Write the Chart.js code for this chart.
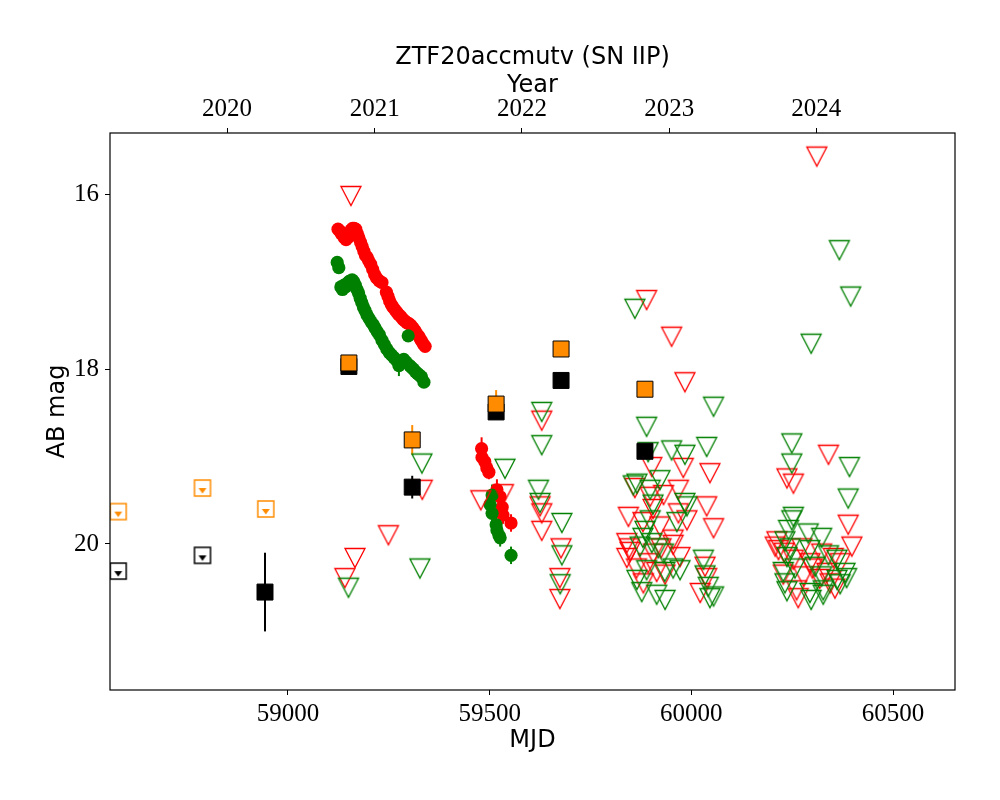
<!DOCTYPE html>
<html><head><meta charset="utf-8">
<script src="https://cdn.jsdelivr.net/npm/chart.js@4"></script>
<style>html,body{margin:0;padding:0;background:#fff}canvas{display:block}</style>
</head><body>
<canvas id="c" width="1000" height="800"></canvas>
<script>
// ---------- text / ticks ----------
const titleText = 'ZTF20accmutv (SN IIP)';
const xLabel = 'MJD';
const yLabel = 'AB mag';
const topLabel = 'Year';
const mjdTicks = [59000, 59500, 60000, 60500];
const magTicks = [16, 18, 20];
const yearTicks = [58849, 59215, 59580, 59945, 60310];
const yearLabels = ['2020', '2021', '2022', '2023', '2024'];
const mjdRange = [58558.7, 60653.7];
const magRange = [15.30, 21.67];

// ---------- data: [MJD, mag, err] ----------
const ztfR = [
 [59124,16.40,0.03],[59128,16.42,0.03],[59132,16.45,0.03],[59136,16.47,0.03],[59140,16.50,0.03],[59144,16.52,0.03],
 [59148,16.50,0.03],[59152,16.45,0.03],[59156,16.41,0.03],[59160,16.39,0.03],[59164,16.39,0.03],[59168,16.40,0.03],
 [59172,16.45,0.03],[59176,16.50,0.03],[59180,16.55,0.03],[59184,16.60,0.03],[59188,16.65,0.03],[59192,16.70,0.03],
 [59196,16.72,0.03],[59200,16.76,0.03],[59205,16.80,0.03],[59210,16.86,0.03],[59215,16.92,0.03],[59220,16.96,0.03],
 [59226,16.99,0.03],[59233,17.01,0.03],[59244,17.12,0.03],[59248,17.17,0.03],[59252,17.22,0.03],[59256,17.26,0.03],
 [59260,17.29,0.03],[59265,17.32,0.03],[59270,17.35,0.03],[59275,17.38,0.03],[59280,17.40,0.03],[59285,17.43,0.03],
 [59290,17.45,0.03],[59295,17.47,0.03],[59300,17.48,0.03],[59305,17.50,0.03],[59310,17.53,0.03],[59315,17.56,0.03],
 [59320,17.60,0.03],[59325,17.63,0.03],[59330,17.67,0.03],[59335,17.71,0.03],[59340,17.74,0.03],
 [59480,18.91,0.13],[59481,19.01,0.10],[59488,19.06,0.10],[59493,19.13,0.10],[59498,19.18,0.08],[59518,19.38,0.12],
 [59526,19.46,0.10],[59531,19.58,0.10],[59533,19.67,0.10],[59553,19.76,0.10]
];
const ztfG = [
 [59122,16.78,0.03],[59126,16.84,0.03],[59131,17.06,0.03],[59135,17.09,0.03],[59139,17.04,0.03],[59143,17.06,0.03],
 [59147,17.02,0.03],[59151,17.00,0.03],[59155,16.99,0.03],[59159,16.98,0.03],[59163,17.00,0.03],[59167,17.04,0.03],
 [59171,17.09,0.03],[59175,17.13,0.03],[59179,17.19,0.12],[59183,17.24,0.03],[59187,17.29,0.03],[59191,17.33,0.03],
 [59196,17.38,0.03],[59201,17.42,0.03],[59206,17.46,0.03],[59211,17.49,0.03],[59216,17.53,0.03],[59221,17.57,0.03],
 [59227,17.61,0.03],[59233,17.67,0.03],[59239,17.72,0.03],[59245,17.77,0.03],[59251,17.81,0.03],[59257,17.84,0.03],
 [59263,17.87,0.03],[59269,17.90,0.03],[59275,17.96,0.12],[59281,17.92,0.03],[59287,17.89,0.03],[59293,17.92,0.03],
 [59298,17.62,0.07],[59302,17.96,0.03],[59306,17.98,0.03],[59311,18.00,0.03],[59316,18.03,0.03],[59321,18.05,0.03],
 [59326,18.07,0.03],[59331,18.09,0.03],[59337,18.15,0.03],
 [59506,19.44,0.12],[59501,19.55,0.12],[59506,19.65,0.10],[59516,19.78,0.10],[59518,19.84,0.10],[59523,19.90,0.10],
 [59526,19.93,0.10],[59553,20.13,0.10]
];
// upper limits: [MJD, mag]
const ztfRLim = [
 [59156,16.02],[59166,20.16],[59141,20.39],[59249,19.90],[59333,19.38],
 [59478,19.50],[59534,19.43],[59629,18.59],[59625,19.57],[59629,19.65],[59629,19.85],[59677,20.05],[59674,20.39],[59674,20.63],
 [59889,17.21],[59951,17.63],[59984,18.15],[59902,19.12],[59980,19.13],[60046,19.19],[59860,19.36],[59898,19.46],
 [59931,19.44],[59968,19.38],[60038,19.57],[59844,19.69],[59922,19.80],[59968,19.65],[59989,19.73],[60055,19.82],
 [59840,19.99],[59848,20.09],[59840,20.16],[59906,20.11],[59955,20.01],[59972,20.15],[59914,20.32],[60034,20.26],
 [60038,20.39],[60022,20.56],[59881,20.45],[59846,20.05],[59893,20.22],[59935,20.35],[59905,19.60],[59880,19.75],
 [59864,20.28],[59955,19.95],[59925,20.05],
 [60311,15.57],[60340,18.98],[60237,19.25],[60253,19.31],[60389,19.78],[60398,20.03],[60212,19.97],[60208,20.03],
 [60216,20.07],[60274,20.05],[60323,20.11],[60352,20.16],[60369,20.22],[60253,20.18],[60294,20.22],[60336,20.33],
 [60278,20.37],[60261,20.53],[60344,20.45],[60228,20.35],[60265,20.62],[60356,20.51],[60300,20.28],[60230,20.10],[60318,20.40]
];
const ztfGLim = [
 [59150,20.50],[59332,19.08],[59327,20.28],
 [59538,19.14],[59629,18.49],[59629,18.87],[59621,19.38],[59625,19.53],[59679,19.76],[59679,20.13],[59675,20.46],
 [59860,17.31],[59889,18.66],[60055,18.43],[60038,18.89],[59893,18.95],[59951,18.93],[59984,18.98],[59865,19.31],
 [59922,19.27],[59898,19.38],[59984,19.53],[59989,19.57],[59898,19.73],[59964,19.75],[59873,20.03],[59902,19.99],
 [59931,20.11],[59972,20.30],[59889,20.30],[60030,20.18],[60042,20.49],[60055,20.60],[59877,20.55],[59914,20.58],
 [59935,20.64],[59865,20.41],[59856,19.33],[59905,19.55],[59885,19.85],[59880,19.93],[59918,20.05],[59934,20.32],
 [59955,20.28],[60034,20.36],[60046,20.62],
 [60367,16.64],[60395,17.17],[60297,17.71],[60249,18.85],[60249,19.08],[60392,19.12],[60389,19.48],[60253,19.69],
 [60249,19.73],[60241,19.84],[60290,19.88],[60232,19.97],[60245,20.05],[60323,19.93],[60294,20.07],[60340,20.13],
 [60361,20.18],[60381,20.33],[60237,20.15],[60257,20.28],[60307,20.26],[60323,20.37],[60228,20.32],[60232,20.45],
 [60294,20.56],[60327,20.53],[60361,20.41],[60297,20.64],[60237,20.54],[60369,20.46],[60385,20.39],[60327,20.58]
];
const orangeDet = [[59151,17.93,0.03],[59308,18.81,0.17],[59516,18.40,0.16],[59677,17.77,0.03],[59885,18.23,0.04]];
const blackDet  = [[58943,20.55,0.45],[59151,17.97,0.03],[59308,19.35,0.13],[59516,18.49,0.03],[59677,18.13,0.03],[59885,18.94,0.05]];
const orangeLim = [[58579,19.63],[58788,19.36],[58945,19.60]];
const blackLim  = [[58579,20.31],[58788,20.13]];

// ---------- styles ----------
const RED = '#ff0000', GREEN = '#008000', ORANGE = '#ff8c00', BLACK = '#000000';
const SANS = 'DejaVu Sans', SERIF = 'Liberation Serif';

function triMarker(color) {
  const c = document.createElement('canvas'); c.width = 24; c.height = 24;
  const g = c.getContext('2d');
  g.strokeStyle = color; g.lineWidth = 1.3; g.lineJoin = 'miter';
  g.beginPath(); g.moveTo(2, 2.5); g.lineTo(22, 2.5); g.lineTo(12, 21.5); g.closePath(); g.stroke();
  return c;
}
function limSquare(color) {
  const c = document.createElement('canvas'); c.width = 20; c.height = 20;
  const g = c.getContext('2d');
  g.strokeStyle = color; g.lineWidth = 1.5;
  g.strokeRect(2, 2, 16, 16);
  g.fillStyle = color;
  g.beginPath(); g.moveTo(6, 10); g.lineTo(14, 10); g.lineTo(10, 15.5); g.closePath(); g.fill();
  return c;
}
const toXY = arr => arr.map(d => ({x: d[0], y: d[1]}));
const toErr = arr => arr.map(d => d[2] || 0);

const errorBars = {
  id: 'errorBars',
  beforeDatasetsDraw(chart) {
    const {ctx, chartArea: a, scales: {x, y}} = chart;
    ctx.save();
    ctx.beginPath(); ctx.rect(a.left, a.top, a.right - a.left, a.bottom - a.top); ctx.clip();
    chart.data.datasets.forEach(ds => {
      if (!ds.errors) return;
      ctx.strokeStyle = ds.errColor; ctx.lineWidth = 2;
      ds.data.forEach((p, j) => {
        const e = ds.errors[j]; if (!e) return;
        const px = x.getPixelForValue(p.x);
        ctx.beginPath();
        ctx.moveTo(px, y.getPixelForValue(p.y - e));
        ctx.lineTo(px, y.getPixelForValue(p.y + e));
        ctx.stroke();
      });
    });
    ctx.restore();
  }
};
const frameTitle = {
  id: 'frameTitle',
  afterDraw(chart) {
    const {ctx, chartArea: a} = chart;
    ctx.save();
    ctx.strokeStyle = '#000'; ctx.lineWidth = 1.2;
    ctx.strokeRect(a.left, a.top, a.right - a.left, a.bottom - a.top);
    ctx.fillStyle = '#000'; ctx.font = '24px "' + SANS + '"';
    ctx.textAlign = 'center'; ctx.textBaseline = 'middle';
    ctx.fillText(titleText, (a.left + a.right) / 2, 58);
    ctx.restore();
  }
};

const tickGrid = {drawOnChartArea: false, drawTicks: true, tickLength: 5, color: '#000', lineWidth: 1};
const tickFont = {family: SERIF, size: 25};
const labFont = {family: SANS, size: 24};

new Chart(document.getElementById('c'), {
  type: 'scatter',
  data: {
    datasets: [
      {label: 'orange', data: toXY(orangeDet), errors: toErr(orangeDet), errColor: ORANGE, order: 0,
       pointStyle: 'rect', radius: 11.3, backgroundColor: ORANGE, borderColor: BLACK, borderWidth: 1},
      {label: 'black', data: toXY(blackDet), errors: toErr(blackDet), errColor: BLACK, order: 1,
       pointStyle: 'rect', radius: 11.3, backgroundColor: BLACK, borderColor: BLACK, borderWidth: 1},
      {label: 'orange lim', data: toXY(orangeLim), order: 2, pointStyle: limSquare(ORANGE), radius: 10},
      {label: 'black lim', data: toXY(blackLim), order: 3, pointStyle: limSquare(BLACK), radius: 10},
      {label: 'g lim', data: toXY(ztfGLim), order: 4, pointStyle: triMarker(GREEN), radius: 12},
      {label: 'r lim', data: toXY(ztfRLim), order: 5, pointStyle: triMarker(RED), radius: 12},
      {label: 'g', data: toXY(ztfG), errors: toErr(ztfG), errColor: GREEN, order: 6,
       pointStyle: 'circle', radius: 6.6, backgroundColor: GREEN, borderColor: GREEN, borderWidth: 0},
      {label: 'r', data: toXY(ztfR), errors: toErr(ztfR), errColor: RED, order: 7,
       pointStyle: 'circle', radius: 6.6, backgroundColor: RED, borderColor: RED, borderWidth: 0}
    ]
  },
  options: {
    responsive: false, animation: false,
    layout: {padding: {left: 0, right: 45, top: 0, bottom: 0}},
    plugins: {legend: {display: false}, tooltip: {enabled: false}, title: {display: false}},
    scales: {
      x: {
        type: 'linear', position: 'bottom', min: mjdRange[0], max: mjdRange[1],
        afterBuildTicks: s => { s.ticks = mjdTicks.map(v => ({value: v})); },
        afterFit: s => { s.height = 110; },
        ticks: {font: tickFont, color: '#000', padding: 4, maxRotation: 0, callback: v => String(v)},
        grid: tickGrid, border: {display: false},
        title: {display: true, text: xLabel, font: labFont, color: '#000', padding: {top: 0, bottom: 45}}
      },
      x2: {
        type: 'linear', position: 'top', min: mjdRange[0], max: mjdRange[1],
        afterBuildTicks: s => { s.ticks = yearTicks.map(v => ({value: v})); },
        afterFit: s => { s.height = 133; },
        ticks: {font: tickFont, color: '#000', padding: 4, maxRotation: 0,
                callback: (v, i) => yearLabels[i]},
        grid: tickGrid, border: {display: false},
        title: {display: true, text: topLabel, font: labFont, color: '#000', padding: {top: 71, bottom: 0}}
      },
      y: {
        type: 'linear', position: 'left', reverse: true, min: magRange[0], max: magRange[1],
        afterBuildTicks: s => { s.ticks = magTicks.map(v => ({value: v})); },
        afterFit: s => { s.width = 110; },
        ticks: {font: tickFont, color: '#000', padding: 6, callback: v => String(v)},
        grid: tickGrid, border: {display: false},
        title: {display: true, text: yLabel, font: labFont, color: '#000', padding: {top: 43, bottom: 0}}
      }
    }
  },
  plugins: [errorBars, frameTitle]
});
</script>
</body></html>
